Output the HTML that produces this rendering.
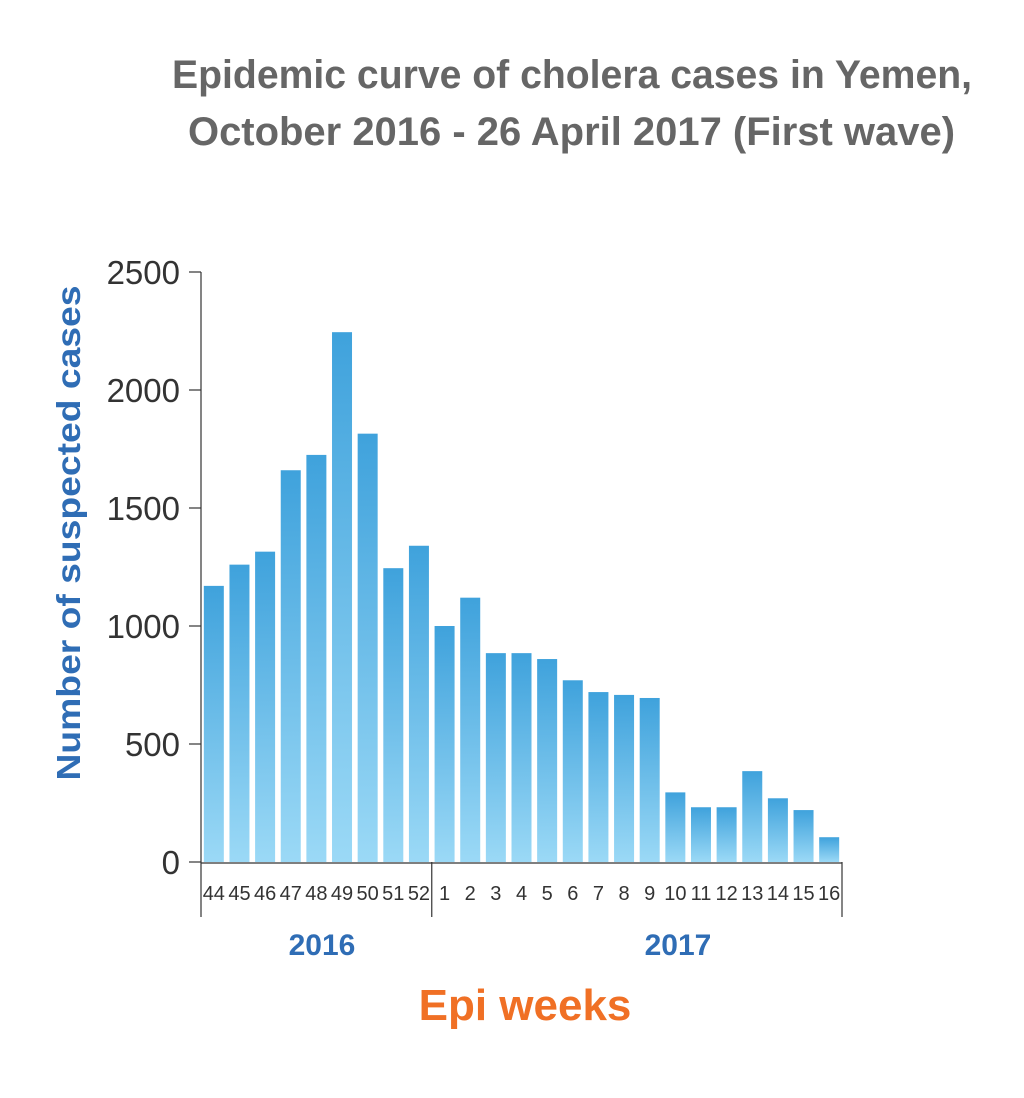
<!DOCTYPE html>
<html><head><meta charset="utf-8"><style>
html,body{margin:0;padding:0;background:#fff}
svg{display:block}
text{font-family:"Liberation Sans",Arial,sans-serif}
</style></head><body>
<svg id="chart" width="1024" height="1098" viewBox="0 0 1024 1098">
<defs><linearGradient id="bg" x1="0" y1="0" x2="0" y2="1"><stop offset="0" stop-color="#3fa2dc"/><stop offset="1" stop-color="#9bd9f6"/></linearGradient></defs>
<text x="172" y="88" textLength="800" lengthAdjust="spacingAndGlyphs" font-size="40" font-weight="bold" fill="#666">Epidemic curve of cholera cases in Yemen,</text>
<text x="188" y="145" textLength="767" lengthAdjust="spacingAndGlyphs" font-size="40" font-weight="bold" fill="#666">October 2016 - 26 April 2017 (First wave)</text>
<text transform="translate(80,533) rotate(-90)" text-anchor="middle" font-size="33" font-weight="bold" fill="#2f6db5" textLength="495" lengthAdjust="spacingAndGlyphs">Number of suspected cases</text>
<text x="525" y="1020" text-anchor="middle" font-size="44" font-weight="bold" fill="#f07025">Epi weeks</text>
<text x="322" y="955" text-anchor="middle" font-size="30" font-weight="bold" fill="#2f6db5">2016</text>
<text x="678" y="955" text-anchor="middle" font-size="30" font-weight="bold" fill="#2f6db5">2017</text>
<g id="bars"></g><g id="axes"></g>
</svg>
<script>
const weeks=["44","45","46","47","48","49","50","51","52","1","2","3","4","5","6","7","8","9","10","11","12","13","14","15","16"];
const cases=[1170,1260,1315,1660,1725,2245,1815,1245,1340,1000,1120,885,885,860,770,720,708,695,295,232,232,385,270,220,105];
const yTicks=[0,500,1000,1500,2000,2500];
const NS="http://www.w3.org/2000/svg";
const x0=201,x1=842,yBase=862,yTop=272,yMax=2500;
const pitch=(x1-x0)/weeks.length;
function y(v){return yBase-(v/yMax)*(yBase-yTop);}
function xc(i){return x0+pitch*(i+0.5);}
function mk(tag,attrs,parent){const e=document.createElementNS(NS,tag);for(const k in attrs)e.setAttribute(k,attrs[k]);parent.appendChild(e);return e;}
const bars=document.getElementById('bars'),axes=document.getElementById('axes');
cases.forEach((v,i)=>{
 const r=mk('rect',{x:xc(i)-10,y:y(v),width:20,height:yBase-y(v),fill:'url(#bg)'},bars);
 
 
 const t=mk('text',{x:xc(i),y:900,'text-anchor':'middle','font-size':20,fill:'#333'},axes);
 t.textContent=weeks[i];
 
 
});
const ya=mk('line',{x1:x0,y1:yTop,x2:x0,y2:917,stroke:'#333','stroke-width':1.2},axes);


const xa=mk('line',{x1:x0,y1:yBase+1,x2:x1,y2:yBase+1,stroke:'#333','stroke-width':1.2},axes);


[x0+pitch*9,x1].forEach(xx=>{
 const s=mk('line',{x1:xx,y1:yBase,x2:xx,y2:917,stroke:'#333','stroke-width':1.2},axes);
 
 
});
yTicks.forEach(v=>{
 const tk=mk('line',{x1:x0-12,y1:y(v),x2:x0,y2:y(v),stroke:'#333','stroke-width':1.2},axes);
 
 
 const t=mk('text',{x:180,y:y(v)+12,'text-anchor':'end','font-size':33,fill:'#333'},axes);
 t.textContent=v;
 
 
});
</script>
</body></html>
